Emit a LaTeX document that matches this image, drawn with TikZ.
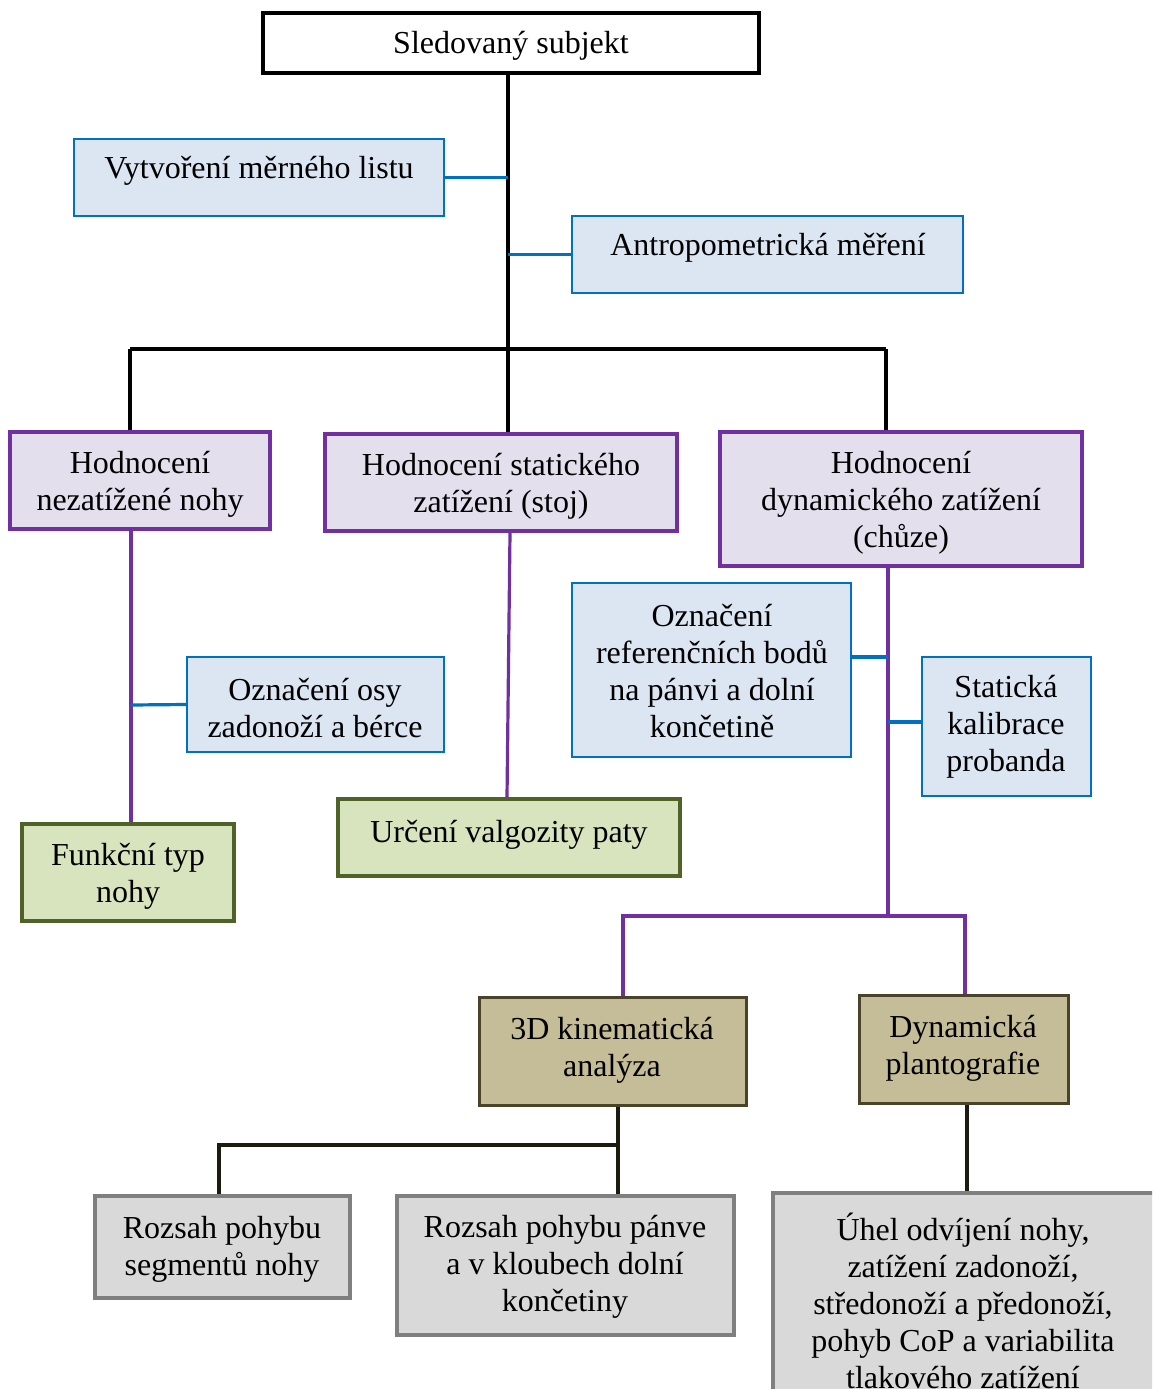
\documentclass[tikz,border=0pt]{standalone}
\usepackage{fontspec}
\setmainfont{Liberation Serif}
\definecolor{bblue}{HTML}{0070C0}
\definecolor{fblue}{HTML}{DCE6F2}
\definecolor{bpurp}{HTML}{7030A0}
\definecolor{fpurp}{HTML}{E4DFEC}
\definecolor{bgreen}{HTML}{4F6228}
\definecolor{fgreen}{HTML}{D7E4BD}
\definecolor{btan}{HTML}{494429}
\definecolor{ftan}{HTML}{C4BD97}
\definecolor{bgray}{HTML}{7F7F7F}
\definecolor{fgray}{HTML}{D9D9D9}
\definecolor{dline}{HTML}{1D1B10}
\begin{document}
\begin{tikzpicture}[x=1pt,y=-1pt,
  box/.style={rectangle, inner sep=0pt},
  rootbox/.style={box, draw=black, line width=3.5pt, fill=white},
  bluebox/.style={box, draw=bblue, line width=2pt, fill=fblue},
  purpbox/.style={box, draw=bpurp, line width=3.5pt, fill=fpurp},
  greenbox/.style={box, draw=bgreen, line width=3.5pt, fill=fgreen},
  tanbox/.style={box, draw=btan, line width=3pt, fill=ftan},
  graybox/.style={box, draw=bgray, line width=3.5pt, fill=fgray},
  txt/.style={font=\fontsize{32}{36.8}\selectfont, align=center, inner sep=0pt, yshift=-3pt},
  blkline/.style={draw=black, line width=3.2pt},
  bline/.style={draw=bblue, line width=3.2pt},
  pline/.style={draw=bpurp, line width=3.2pt},
  dkline/.style={draw=dline, line width=3.2pt}]
\useasboundingbox (0,0) rectangle (1152,1389);
\clip (0,0) rectangle (1152,1389);

% junction coordinates
\coordinate (t) at (508,349);
\coordinate (tl) at (130,349);
\coordinate (tr) at (886,349);
\coordinate (pl) at (131,705);
\coordinate (pd) at (888,916);
\coordinate (rj) at (888,657);
\coordinate (sj) at (888,722);
\coordinate (kl) at (623,916);
\coordinate (kr) at (965,916);
\coordinate (ka) at (618,1145);
\coordinate (kb) at (219,1145);
\coordinate (pu) at (967,1150);

% boxes
\node[rootbox, minimum width=496, minimum height=60] (root) at (511,43) {};
\node[bluebox, minimum width=370, minimum height=77] (vytv) at (259,177.5) {};
\node[bluebox, minimum width=391, minimum height=77] (antro) at (767.5,254.5) {};
\node[purpbox, minimum width=260, minimum height=97] (nez) at (140,480.5) {};
\node[purpbox, minimum width=352, minimum height=97] (stat) at (501,482.5) {};
\node[purpbox, minimum width=362, minimum height=134] (dyn) at (901,499) {};
\node[bluebox, minimum width=257, minimum height=95] (osy) at (315.5,704.5) {};
\node[greenbox, minimum width=212, minimum height=97] (funk) at (128,872.5) {};
\node[greenbox, minimum width=342, minimum height=77] (urceni) at (509,837.5) {};
\node[bluebox, minimum width=279, minimum height=174] (ref) at (711.5,670) {};
\node[bluebox, minimum width=169, minimum height=139] (stak) at (1006.5,726.5) {};
\node[tanbox, minimum width=267, minimum height=108] (kin) at (612.5,1051) {};
\node[tanbox, minimum width=209, minimum height=108] (plant) at (963.5,1049) {};
\node[graybox, minimum width=255, minimum height=102] (seg) at (222.5,1247) {};
\node[graybox, minimum width=337, minimum height=139] (panve) at (565.5,1265.5) {};
\node[graybox, minimum width=387, minimum height=227] (uhel) at (966.5,1306.5) {};

% connectors
\draw[blkline] (root.south -| t) -- (stat.north -| t);
\draw[blkline] (tl) -- (tr);
\draw[blkline] (tl) -- (nez.north -| tl);
\draw[blkline] (tr) -- (dyn.north -| tr);
\draw[bline] (vytv.east) -- (vytv.east -| t);
\draw[bline] (antro.west -| t) -- (antro.west);
\draw[pline] (nez.south -| pl) -- (funk.north -| pl);
\draw[bline] (pl) -- (osy.west);
\draw[pline] ([xshift=9pt]stat.south) -- ([xshift=-2pt]urceni.north);
\draw[pline] (dyn.south -| pd) -- (pd);
\draw[bline] (rj -| ref.east) -- (rj);
\draw[bline] (sj) -- (sj -| stak.west);
\draw[pline] (kin.north -| kl) -- (kl) -- (kr) -- (plant.north -| kr);
\draw[dkline] (kin.south -| ka) -- (panve.north -| ka);
\draw[dkline] (ka) -- (kb) -- (seg.north -| kb);
\draw[dkline] (plant.south -| pu) -- (uhel.north -| pu);

% texts
\node[txt] (root-t) at (511,43) {Sledovaný subjekt};
\node[txt] (vytv-t) at (259,168) {Vytvoření měrného listu};
\node[txt] (antro-t) at (768,245) {Antropometrická měření};
\node[txt] (nez-t) at (140,481) {Hodnocení\\nezatížené nohy};
\node[txt] (stat-t) at (501,483) {Hodnocení statického\\zatížení (stoj)};
\node[txt] (dyn-t) at (901,500) {Hodnocení\\dynamického zatížení\\(chůze)};
\node[txt] (osy-t) at (315,705) {Označení osy\\zadonoží a bérce};
\node[txt] (funk-t) at (128,873) {Funkční typ\\nohy};
\node[txt] (urceni-t) at (509,832) {Určení valgozity paty};
\node[txt] (ref-t) at (712,668) {Označení\\referenčních bodů\\na pánvi a dolní\\končetině};
\node[txt] (stak-t) at (1006,724) {Statická\\kalibrace\\probanda};
\node[txt] (kin-t) at (612,1047) {3D kinematická\\analýza};
\node[txt] (plant-t) at (963,1045) {Dynamická\\plantografie};
\node[txt] (seg-t) at (222,1246) {Rozsah pohybu\\segmentů nohy};
\node[txt] (panve-t) at (565,1264) {Rozsah pohybu pánve\\a v kloubech dolní\\končetiny};
\node[txt] (uhel-t) at (963,1298) {Úhel odvíjení nohy,\\zatížení zadonoží,\\středonoží a předonoží,\\pohyb CoP a variabilita\\tlakového zatížení};
\end{tikzpicture}
\end{document}
